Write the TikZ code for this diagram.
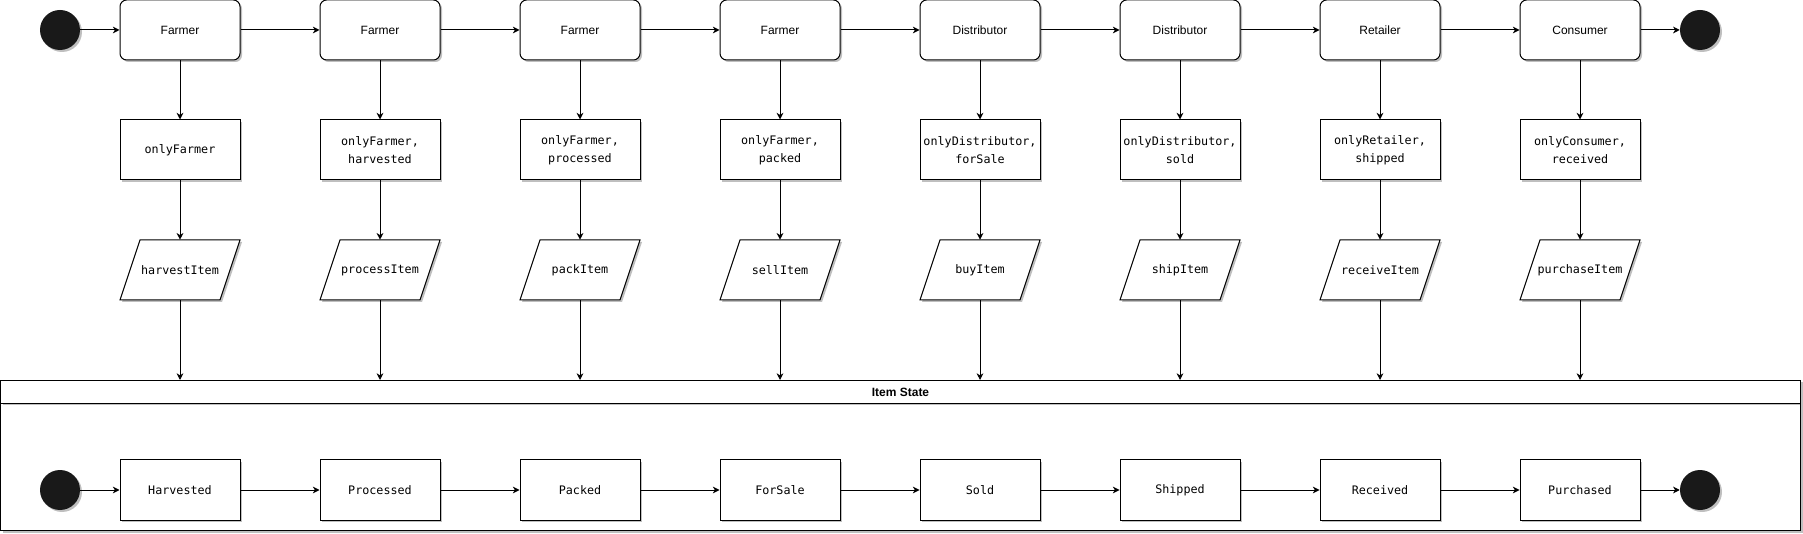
\documentclass[tikz,border=0pt]{standalone}
\usepackage{fontspec}
\setmainfont{Liberation Sans}
\newfontfamily\codefont{DejaVu Sans Mono}
\usetikzlibrary{arrows.meta,shadows}

\tikzset{
  softshadow/.style={drop shadow={shadow xshift=1.5pt, shadow yshift=-1.5pt, fill=black, opacity=0.25}},
  role/.style={draw, fill=white, softshadow, rounded corners=5pt, line width=0.75pt,
    minimum width=90pt, minimum height=45pt, font=\fontsize{9}{11}\selectfont},
  guard/.style={draw, fill=white, softshadow, line width=0.75pt, align=center, inner xsep=1pt,
    minimum width=90pt, minimum height=45pt, font=\codefont\fontsize{8.8}{13.5}\selectfont},
  callbox/.style={minimum width=90pt, minimum height=45pt, inner sep=0pt,
    font=\codefont\fontsize{8.8}{11}\selectfont},
  slanted/.style={draw, fill=white, softshadow, line width=0.75pt},
  statebox/.style={guard},
  blackdot/.style={circle, fill=black!90, softshadow, minimum size=30pt, inner sep=0pt},
  flow/.style={-{Stealth[length=5pt, width=5pt, inset=1.5pt]}, line width=0.75pt},
}

\begin{document}
\begin{tikzpicture}[x=0.75pt, y=-0.75pt]
  \useasboundingbox (0,0) rectangle (1803,534);

  % --- item state container ---
  \node[draw, fill=white, softshadow, line width=0.75pt, anchor=north west,
    minimum width=1350pt, minimum height=95.25pt] (statebody) at (0,403) {};
  \node[draw, fill=white, softshadow, line width=0.75pt, anchor=north west,
    minimum width=1350pt, minimum height=17.25pt,
    font=\bfseries\fontsize{9}{11}\selectfont] (stateheader) at (0,380) {Item State};

  % --- start / end dots ---
  \node[blackdot] (start)  at (60,30)   {};
  \node[blackdot] (stop)   at (1700,30) {};
  \node[blackdot] (sstart) at (60,490)  {};
  \node[blackdot] (sstop)  at (1700,490) {};

  % --- one column per step ---
  \foreach \i/\who/\cond/\call/\st in {
      1/Farmer/onlyFarmer/harvestItem/Harvested,
      2/Farmer/{onlyFarmer,\\harvested}/processItem/Processed,
      3/Farmer/{onlyFarmer,\\processed}/packItem/Packed,
      4/Farmer/{onlyFarmer,\\packed}/sellItem/ForSale,
      5/Distributor/{onlyDistributor,\\forSale}/buyItem/Sold,
      6/Distributor/{onlyDistributor,\\sold}/shipItem/Shipped,
      7/Retailer/{onlyRetailer,\\shipped}/receiveItem/Received,
      8/Consumer/{onlyConsumer,\\received}/purchaseItem/Purchased} {
    \pgfmathsetmacro{\cx}{180+200*(\i-1)}
    \node[role]     (r\i) at (\cx,30)  {\who};
    \node[guard]    (g\i) at (\cx,150) {\cond};
    % parallelogram: 20px slant over 60px height
    \draw[slanted] (\cx-60,300) -- (\cx-40,240) -- (\cx+60,240) -- (\cx+40,300) -- cycle;
    \node[callbox]  (f\i) at (\cx,270) {\call};
    \node[statebox] (s\i) at (\cx,490) {\st};

    \draw[flow] (r\i) -- (g\i);
    \draw[flow] (g\i) -- (f\i);
    \draw[flow] (f\i) -- (f\i.south |- stateheader.north);
  }

  % --- horizontal flows ---
  \draw[flow] (start) -- (r1);
  \draw[flow] (sstart) -- (s1);
  \foreach \i [evaluate=\i as \j using int(\i+1)] in {1,...,7} {
    \draw[flow] (r\i) -- (r\j);
    \draw[flow] (s\i) -- (s\j);
  }
  \draw[flow] (r8) -- (stop);
  \draw[flow] (s8) -- (sstop);

\end{tikzpicture}
\end{document}
